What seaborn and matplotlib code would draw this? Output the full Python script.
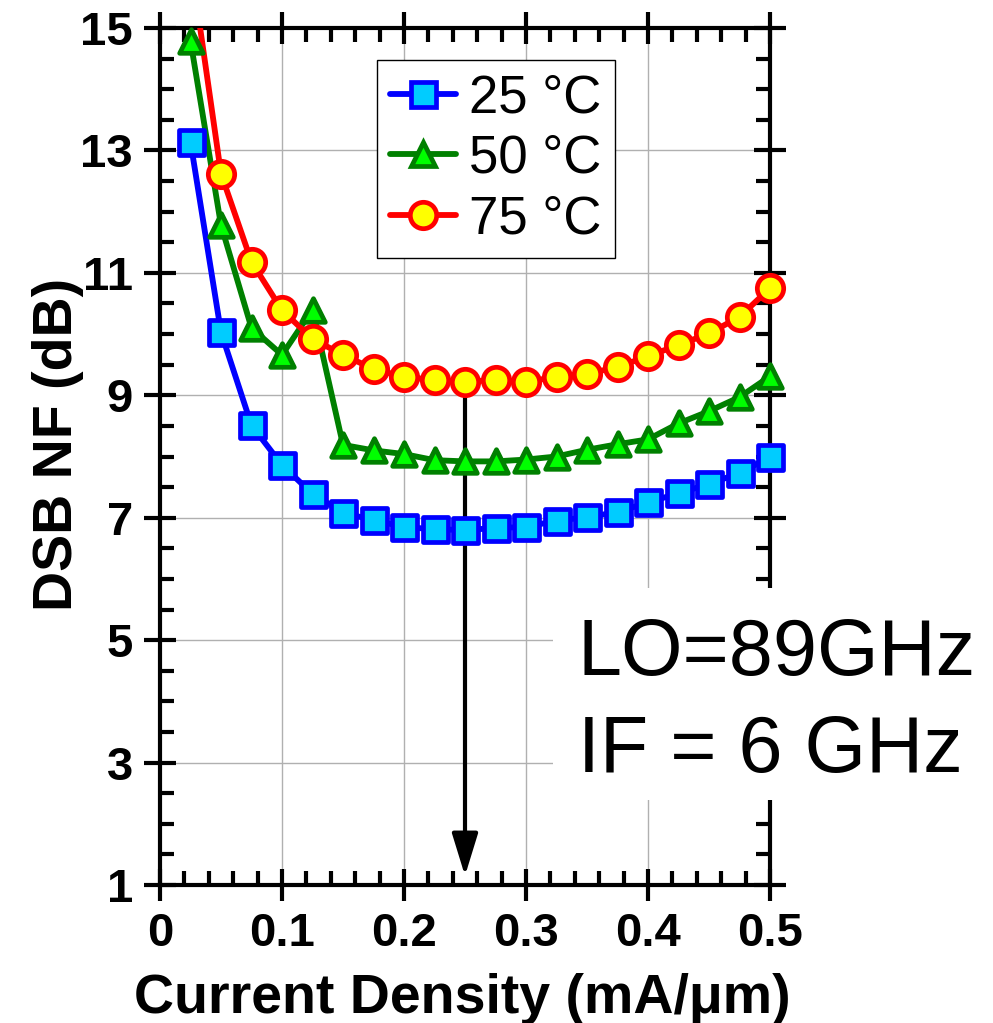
import numpy as np
import pandas as pd
import matplotlib
matplotlib.use('Agg')
import matplotlib.pyplot as plt
import seaborn as sns
from matplotlib.lines import Line2D
from matplotlib.patches import Rectangle
from matplotlib.ticker import MultipleLocator

# ---- data ----
current_density = [0.025, 0.05, 0.075, 0.1, 0.125, 0.15, 0.175, 0.2, 0.225, 0.25,
                   0.275, 0.3, 0.325, 0.35, 0.375, 0.4, 0.425, 0.45, 0.475, 0.5]
nf_25 = [13.14, 10.03, 8.51, 7.86, 7.39, 7.08, 6.96, 6.85, 6.81, 6.80,
         6.83, 6.85, 6.95, 7.01, 7.09, 7.25, 7.40, 7.55, 7.73, 7.99]
nf_50 = [14.79, 11.78, 10.10, 9.66, 10.40, 8.19, 8.10, 8.04, 7.94, 7.92,
         7.92, 7.95, 8.00, 8.11, 8.20, 8.28, 8.54, 8.74, 8.97, 9.31]
nf_75 = [16.10, 12.62, 11.18, 10.39, 9.92, 9.66, 9.43, 9.30, 9.25, 9.22,
         9.25, 9.22, 9.30, 9.35, 9.46, 9.64, 9.82, 10.01, 10.28, 10.75]
series_labels = ['25 °C', '50 °C', '75 °C']
x_ticks = [0, 0.1, 0.2, 0.3, 0.4, 0.5]
x_tick_labels = ['0', '0.1', '0.2', '0.3', '0.4', '0.5']
y_ticks = [1, 3, 5, 7, 9, 11, 13, 15]
arrow_x = 0.25
arrow_from = 9.22
arrow_to = 1.15

sns.set_theme(style='white')
plt.rcParams['font.family'] = ['Liberation Sans', 'DejaVu Sans']
plt.rcParams['text.color'] = 'black'
plt.rcParams['axes.labelcolor'] = 'black'
plt.rcParams['xtick.color'] = 'black'
plt.rcParams['ytick.color'] = 'black'

fig = plt.figure(figsize=(9.93, 10.23), dpi=100)
ax = fig.add_axes([160/993, 1-885/1023, 610/993, 857/1023])

styles = [
    ('#0000FF', '#00CCFF', 's', 18),
    ('#008000', '#00FF00', '^', 17),
    ('#FF0000', '#FFFF00', 'o', 19),
]
LW = 4.2
MEW = 3.4
handles = []
for vals, (lc, fc, mk, ms) in zip([nf_25, nf_50, nf_75], styles):
    df = pd.DataFrame({'x': current_density, 'nf': vals})
    sns.lineplot(data=df, x='x', y='nf', ax=ax, color=lc, lw=LW, zorder=3,
                 legend=False)
    sns.scatterplot(data=df, x='x', y='nf', ax=ax, marker=mk, s=ms**2,
                    color=fc, edgecolor=lc, linewidth=MEW, zorder=4,
                    clip_on=False, legend=False)
    handles.append(Line2D([], [], color=lc, lw=LW, marker=mk, markersize=ms,
                          markerfacecolor=fc, markeredgecolor=lc,
                          markeredgewidth=MEW))

ax.annotate('', xy=(arrow_x, arrow_to), xytext=(arrow_x, arrow_from),
            arrowprops=dict(arrowstyle='-|>,head_length=1.3,head_width=0.4',
                            color='black', lw=3, mutation_scale=20,
                            shrinkA=0, shrinkB=0), zorder=2.5)

ax.set_xlim(0, 0.5)
ax.set_ylim(1, 15)
ax.set_xticks(x_ticks)
ax.set_xticklabels(x_tick_labels)
ax.set_yticks(y_ticks)
ax.xaxis.set_minor_locator(MultipleLocator(0.02))
ax.yaxis.set_minor_locator(MultipleLocator(0.5))
ax.tick_params(which='major', direction='inout', length=23, width=3,
               top=True, right=True, bottom=True, left=True,
               labelsize=34, pad=8, color='black', labelcolor='black')
ax.tick_params(which='minor', direction='in', length=10, width=3,
               top=True, right=True, bottom=True, left=True, color='black')
for lbl in ax.get_xticklabels() + ax.get_yticklabels():
    lbl.set_fontweight('bold')
for sp in ax.spines.values():
    sp.set_linewidth(3)
    sp.set_color('black')
ax.grid(True, which='major', color='#b0b0b0', lw=1.0)
ax.set_axisbelow(True)
ax.set_xlabel('')
ax.set_ylabel('')

fig.text(462/993, 1-1013/1023, 'Current Density (mA/μm)', fontsize=40,
         fontweight='bold', ha='center', va='baseline', color='black')
fig.text(72/993, 1-444/1023, 'DSB NF (dB)', fontsize=40, fontweight='bold',
         rotation=90, rotation_mode='anchor', ha='center', va='baseline',
         color='black')

# white box behind the annotation text (covers spine/grid like the original)
fig.patches.append(Rectangle((553/993, 1-800/1023), (993-553)/993,
                             (800-588)/1023, transform=fig.transFigure,
                             facecolor='white', edgecolor='none', zorder=1))
fig.text(578/993, 1-675/1023, 'LO=89GHz', fontsize=57, ha='left',
         va='baseline', color='black', zorder=5)
fig.text(578/993, 1-772/1023, 'IF = 6 GHz', fontsize=57, ha='left',
         va='baseline', color='black', zorder=5)

leg = fig.legend(handles, series_labels, loc='upper left',
                 bbox_to_anchor=(377/993, 1-60/1023), fontsize=38,
                 frameon=True, fancybox=False, edgecolor='black',
                 framealpha=1, handlelength=1.25, handletextpad=0.25,
                 borderpad=0.25, labelspacing=0.2, borderaxespad=0)
leg.get_frame().set_linewidth(1.0)
for t in leg.get_texts():
    t.set_color('black')

fig.savefig('out.png', dpi=100)
